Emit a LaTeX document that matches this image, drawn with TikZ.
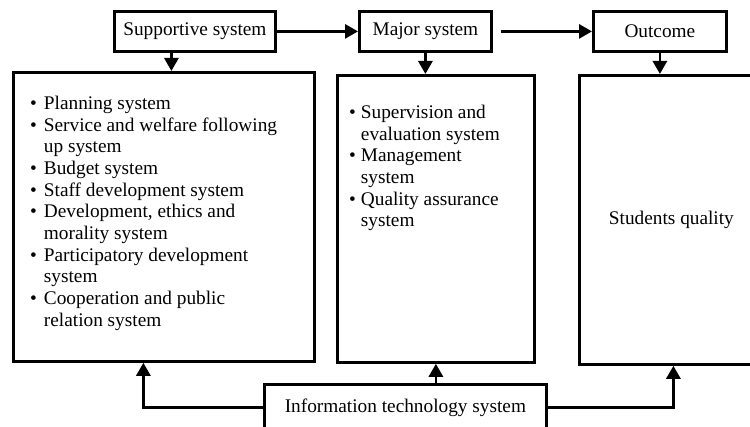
\documentclass[tikz,border=0pt]{standalone}
\usepackage{fontspec}
\setmainfont{Liberation Serif}
\usetikzlibrary{arrows.meta,positioning}

\begin{document}
\begin{tikzpicture}
[
x=1pt, y=-1pt,
every node/.style={font=\fontsize{19.3}{21.7}\selectfont, inner sep=0pt},
topbox/.style={draw, line width=2.8pt, minimum height=40pt, anchor=north west},
bigbox/.style={draw, line width=2.8pt, anchor=north west},
itemlist/.style={anchor=north west, align=left},
link/.style={line width=2.8pt, -{Triangle[length=13pt,width=14pt]}}
]
\useasboundingbox (0,0) rectangle (750,427);

\node[topbox, minimum width=161pt] (supp) at (113,10) {Supportive system};
\node[topbox, minimum width=132pt] (major) at (358,10) {Major system};
\node[topbox, minimum width=133pt] (outc) at (592,10) {Outcome};

\node[bigbox, minimum width=301pt, minimum height=289pt] (plan) at (12,71) {};
\node[bigbox, minimum width=197pt, minimum height=287pt] (mbox) at (336,74) {};
\node[bigbox, minimum width=184pt, minimum height=289pt] (sq) at (578,74) {Students quality};
\node[bigbox, minimum width=282pt, minimum height=46pt] (info) at (263,383) {Information technology system};

\node[itemlist] (planlist) at ([shift={(18,23)}]plan.north west) {%
\begin{tabular}{@{}l@{\hspace{7pt}}l@{}}
\textbullet & Planning system\\
\textbullet & Service and welfare following\\
 & up system\\
\textbullet & Budget system\\
\textbullet & Staff development system\\
\textbullet & Development, ethics and\\
 & morality system\\
\textbullet & Participatory development\\
 & system\\
\textbullet & Cooperation and public\\
 & relation system
\end{tabular}};

\node[itemlist] (mlist) at ([shift={(13,29)}]mbox.north west) {%
\begin{tabular}{@{}l@{\hspace{5pt}}l@{}}
\textbullet & Supervision and\\
 & evaluation system\\
\textbullet & Management\\
 & system\\
\textbullet & Quality assurance\\
 & system
\end{tabular}};

\draw[link] (supp) -- (major);
\draw[link, shorten <=8pt] (major) -- (outc);
\draw[link] ([xshift=-23.5pt]supp.south) -- ([xshift=7.5pt]plan.north);
\draw[link] (major.south) -- (major.south |- mbox.north);
\draw[link] (outc.south) -- (outc.south |- sq.north);

\draw[link] (info.west) -| ([xshift=-20.5pt]plan.south);
\draw[link] (info.north -| mbox.south) -- (mbox.south);
\draw[link] (info.east) -| ([xshift=2pt]sq.south);
\end{tikzpicture}
\end{document}
